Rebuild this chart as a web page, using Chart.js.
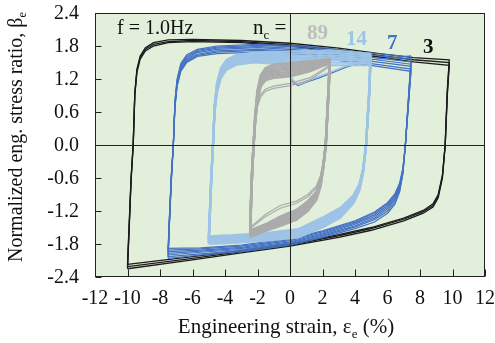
<!DOCTYPE html>
<html>
<head>
<meta charset="utf-8">
<script src="https://cdn.jsdelivr.net/npm/chart.js@4.4.1/dist/chart.umd.min.js"></script>
<style>
  body { margin: 0; background: #fff; }
  #wrap { width: 495px; height: 343px; }
</style>
</head>
<body>
<div id="wrap"><canvas id="chart"></canvas></div>
<script>
const xTickValues = [-12, -10, -8, -6, -4, -2, 0, 2, 4, 6, 8, 10, 12];
const yTickValues = [-2.4, -1.8, -1.2, -0.6, 0.0, 0.6, 1.2, 1.8, 2.4];

// n_c = 3, strain amplitude 10 %
const strain3 = [-10.0, -9.9, -9.78, -9.65, -9.55, -9.42, -9.22, -8.9, -8.4, -7.5, -6.0, -3.0, 0.0, 3.0, 5.5, 7.6, 9.8, 9.68, 9.55, 9.38, 9.12, 8.8, 8.2, 7.0, 5.0, 3.0, 0.0, -3.0, -6.0, -10.0];
const stress3a = [-2.17, -1.45, -0.6, 0.0, 0.95, 1.38, 1.62, 1.77, 1.86, 1.91, 1.92, 1.9, 1.85, 1.76, 1.66, 1.59, 1.55, 1.0, 0.0, -0.55, -0.9, -1.07, -1.19, -1.33, -1.5, -1.63, -1.8, -1.92, -2.03, -2.17];
const stress3b = [-2.21, -1.5, -0.62, 0.0, 0.93, 1.35, 1.59, 1.74, 1.83, 1.88, 1.9, 1.88, 1.82, 1.73, 1.63, 1.55, 1.5, 0.95, 0.0, -0.57, -0.93, -1.1, -1.21, -1.35, -1.52, -1.65, -1.82, -1.94, -2.06, -2.21];
const stress3c = [-2.25, -1.55, -0.65, 0.0, 0.9, 1.32, 1.56, 1.71, 1.8, 1.86, 1.88, 1.86, 1.8, 1.7, 1.6, 1.51, 1.45, 0.9, 0.0, -0.6, -0.96, -1.13, -1.24, -1.38, -1.55, -1.68, -1.84, -1.96, -2.09, -2.25];

// n_c = 7, strain amplitude 7.5 %
const strain7 = [-7.5, -7.42, -7.3, -7.18, -7.08, -6.95, -6.72, -6.35, -5.7, -4.5, -2.0, 1.0, 4.0, 7.45, 7.32, 7.1, 6.95, 6.75, 6.45, 6.0, 5.2, 4.0, 2.0, 0.0, -3.0, -5.5, -7.5];
const stress7a = [-2.06, -1.45, -0.65, 0, 0.8, 1.2, 1.48, 1.64, 1.74, 1.8, 1.83, 1.8, 1.7, 1.6, 1.0, 0, -0.52, -0.85, -1.08, -1.24, -1.4, -1.52, -1.68, -1.82, -1.94, -2.0, -2.06];
const stress7b = [-2.03, -1.42, -0.63, 0, 0.78, 1.17, 1.45, 1.61, 1.72, 1.78, 1.81, 1.78, 1.67, 1.56, 0.98, 0, -0.5, -0.82, -1.04, -1.2, -1.36, -1.49, -1.66, -1.8, -1.92, -1.98, -2.03];
const stress7c = [-2.0, -1.4, -0.6, 0, 0.76, 1.15, 1.43, 1.59, 1.7, 1.76, 1.79, 1.75, 1.63, 1.51, 0.95, 0, -0.48, -0.79, -1.0, -1.16, -1.33, -1.47, -1.64, -1.78, -1.9, -1.95, -2.0];
const stress7d = [-1.97, -1.38, -0.58, 0, 0.74, 1.12, 1.4, 1.56, 1.68, 1.74, 1.77, 1.72, 1.6, 1.47, 0.93, 0, -0.46, -0.76, -0.97, -1.13, -1.3, -1.44, -1.62, -1.76, -1.88, -1.93, -1.97];
const stress7e = [-1.94, -1.35, -0.56, 0, 0.72, 1.1, 1.38, 1.54, 1.65, 1.71, 1.74, 1.7, 1.56, 1.43, 0.9, 0, -0.45, -0.74, -0.94, -1.1, -1.27, -1.42, -1.6, -1.74, -1.86, -1.91, -1.94];
const stress7f = [-1.91, -1.33, -0.55, 0, 0.7, 1.08, 1.36, 1.52, 1.63, 1.69, 1.72, 1.67, 1.52, 1.38, 0.87, 0, -0.43, -0.71, -0.91, -1.07, -1.24, -1.4, -1.58, -1.72, -1.84, -1.89, -1.91];
const stress7g = [-1.88, -1.3, -0.53, 0, 0.68, 1.06, 1.34, 1.5, 1.61, 1.66, 1.69, 1.64, 1.49, 1.34, 0.85, 0, -0.42, -0.69, -0.89, -1.05, -1.22, -1.38, -1.56, -1.7, -1.82, -1.87, -1.88];
const firstStrain7 = [0.0, 0.03, 0.06, 0.25, 0.5, 1.0, 1.8, 2.5, 3.5, 5.0, 7.45];
const firstStress7 = [0.0, 0.6, 1.2, 1.12, 1.08, 1.14, 1.22, 1.3, 1.42, 1.55, 1.62];

// n_c = 14, strain amplitude 5 %
const strain14 = [-5.0, -4.93, -4.85, -4.74, -4.64, -4.5, -4.25, -3.9, -3.3, -2.2, 0.0, 2.5, 4.95, 4.88, 4.68, 4.5, 4.28, 3.9, 3.1, 2.0, 0.5, -1.5, -3.5, -5.0];
const stress14a = [-1.8, -1.3, -0.7, 0, 0.72, 1.12, 1.4, 1.55, 1.64, 1.68, 1.7, 1.72, 1.66, 1.05, 0, -0.5, -0.82, -1.06, -1.32, -1.5, -1.68, -1.74, -1.78, -1.8];
const stress14b = [-1.78, -1.28, -0.68, 0, 0.7, 1.09, 1.37, 1.52, 1.61, 1.65, 1.66, 1.68, 1.63, 1.02, 0, -0.49, -0.8, -1.04, -1.29, -1.47, -1.65, -1.72, -1.76, -1.78];
const stress14c = [-1.76, -1.26, -0.66, 0, 0.68, 1.06, 1.34, 1.49, 1.58, 1.62, 1.62, 1.63, 1.6, 1.0, 0, -0.48, -0.78, -1.01, -1.26, -1.44, -1.63, -1.69, -1.74, -1.76];
const stress14d = [-1.73, -1.24, -0.64, 0, 0.66, 1.03, 1.31, 1.46, 1.55, 1.59, 1.58, 1.59, 1.56, 0.98, 0, -0.46, -0.76, -0.99, -1.23, -1.41, -1.6, -1.67, -1.71, -1.73];
const stress14e = [-1.71, -1.22, -0.62, 0, 0.64, 1.0, 1.28, 1.43, 1.52, 1.56, 1.54, 1.55, 1.53, 0.96, 0, -0.45, -0.74, -0.96, -1.2, -1.38, -1.57, -1.64, -1.69, -1.71];
const stress14f = [-1.68, -1.2, -0.6, 0, 0.62, 0.98, 1.25, 1.4, 1.49, 1.53, 1.5, 1.5, 1.49, 0.94, 0, -0.44, -0.72, -0.94, -1.17, -1.35, -1.55, -1.62, -1.66, -1.68];
const stress14g = [-1.66, -1.18, -0.58, 0, 0.6, 0.95, 1.22, 1.37, 1.46, 1.5, 1.46, 1.45, 1.45, 0.92, 0, -0.43, -0.7, -0.92, -1.14, -1.32, -1.53, -1.6, -1.64, -1.66];
const firstStrain14 = [0.0, 0.03, 0.07, 0.3, 0.55, 1.0, 1.8, 2.5, 3.5, 4.95];
const firstStress14 = [0.0, 0.62, 1.24, 1.14, 1.1, 1.16, 1.25, 1.33, 1.44, 1.56];

// n_c = 89, strain amplitude 2.5 %
const strain89 = [-2.45, -2.4, -2.33, -2.24, -2.14, -2.0, -1.8, -1.5, -1.0, 0.0, 1.2, 2.45, 2.38, 2.2, 2.05, 1.88, 1.62, 1.1, 0.4, -0.6, -1.5, -2.45];
const stress89a = [-1.67, -1.12, -0.5, 0, 0.55, 1.0, 1.27, 1.4, 1.46, 1.49, 1.52, 1.56, 1.1, 0, -0.42, -0.75, -1.0, -1.2, -1.36, -1.47, -1.56, -1.67];
const stress89b = [-1.65, -1.1, -0.49, 0, 0.53, 0.97, 1.23, 1.36, 1.42, 1.45, 1.49, 1.55, 1.08, 0, -0.41, -0.73, -0.98, -1.17, -1.33, -1.44, -1.54, -1.65];
const stress89c = [-1.63, -1.08, -0.48, 0, 0.51, 0.94, 1.2, 1.32, 1.38, 1.41, 1.46, 1.54, 1.06, 0, -0.4, -0.71, -0.95, -1.14, -1.3, -1.41, -1.52, -1.63];
const stress89d = [-1.61, -1.06, -0.47, 0, 0.49, 0.91, 1.17, 1.28, 1.34, 1.37, 1.43, 1.53, 1.04, 0, -0.39, -0.69, -0.93, -1.11, -1.27, -1.39, -1.5, -1.61];
const stress89e = [-1.59, -1.04, -0.46, 0, 0.47, 0.88, 1.14, 1.25, 1.3, 1.33, 1.4, 1.52, 1.02, 0, -0.38, -0.67, -0.9, -1.08, -1.24, -1.36, -1.48, -1.59];
const stress89f = [-1.57, -1.02, -0.45, 0, 0.45, 0.85, 1.1, 1.21, 1.26, 1.29, 1.37, 1.5, 1.0, 0, -0.37, -0.65, -0.88, -1.05, -1.21, -1.33, -1.46, -1.57];
const stress89g = [-1.55, -1.0, -0.44, 0, 0.43, 0.82, 1.07, 1.18, 1.22, 1.25, 1.34, 1.49, 0.98, 0, -0.36, -0.63, -0.85, -1.02, -1.18, -1.3, -1.44, -1.55];
const stress89early1 = [-1.52, -0.95, -0.4, 0, 0.4, 0.72, 0.92, 1.02, 1.07, 1.12, 1.22, 1.45, 0.95, 0, -0.33, -0.58, -0.78, -0.94, -1.06, -1.15, -1.3, -1.52];
const stress89early2 = [-1.5, -0.92, -0.38, 0, 0.38, 0.7, 0.88, 0.98, 1.03, 1.08, 1.18, 1.43, 0.92, 0, -0.31, -0.55, -0.75, -0.9, -1.02, -1.1, -1.26, -1.5];

const seriesLabels = ['89', '14', '7', '3'];
const seriesColors = ['#bdbdbd', '#9dc3e6', '#4472c4', '#111111'];

const plotGreen = '#e2efda';
const serif = '"Liberation Serif", "Times New Roman", serif';

function toPoints(strain, stress) {
  return strain.map((x, i) => ({ x: x, y: stress[i] }));
}

function loop(strain, stress, color, width, layer) {
  return {
    data: toPoints(strain, stress),
    showLine: true,
    borderColor: color,
    borderWidth: width,
    pointRadius: 0,
    tension: 0,
    fill: false,
    order: layer
  };
}

const black = '#1c1c1c';
const blue = '#4472c4';
const lightBlue = '#9dc3e6';
const gray = '#ababab';

// lower order is drawn on top
const datasets = [
  loop(strain3, stress3a, black, 1.3, 5),
  loop(strain3, stress3b, black, 1.3, 5),
  loop(strain3, stress3c, black, 1.3, 5),
  loop(strain7, stress7a, blue, 1.2, 4),
  loop(strain7, stress7b, blue, 1.2, 4),
  loop(strain7, stress7c, blue, 1.2, 4),
  loop(strain7, stress7d, blue, 1.2, 4),
  loop(strain7, stress7e, blue, 1.2, 4),
  loop(strain7, stress7f, blue, 1.2, 4),
  loop(strain7, stress7g, blue, 1.2, 4),
  loop(firstStrain7, firstStress7, blue, 1.2, 4),
  loop(strain14, stress14a, lightBlue, 2.2, 3),
  loop(strain14, stress14b, lightBlue, 2.2, 3),
  loop(strain14, stress14c, lightBlue, 2.2, 3),
  loop(strain14, stress14d, lightBlue, 2.2, 3),
  loop(strain14, stress14e, lightBlue, 2.2, 3),
  loop(strain14, stress14f, lightBlue, 2.2, 3),
  loop(strain14, stress14g, lightBlue, 2.2, 3),
  loop(firstStrain14, firstStress14, lightBlue, 1.5, 3),
  loop(strain89, stress89early1, gray, 1.2, 2),
  loop(strain89, stress89early2, gray, 1.2, 2),
  loop(strain89, stress89a, gray, 2.4, 2),
  loop(strain89, stress89b, gray, 2.4, 2),
  loop(strain89, stress89c, gray, 2.4, 2),
  loop(strain89, stress89d, gray, 2.4, 2),
  loop(strain89, stress89e, gray, 2.4, 2),
  loop(strain89, stress89f, gray, 2.4, 2),
  loop(strain89, stress89g, gray, 2.4, 2)
];

// text made of runs, some of them subscript
function runWidth(ctx, runs, size) {
  let w = 0;
  runs.forEach(r => {
    ctx.font = (r.bold ? 'bold ' : '') + (r.sub ? size * 0.62 : size) + 'px ' + serif;
    w += ctx.measureText(r.t).width;
  });
  return w;
}

function drawRuns(ctx, runs, x, y, size, color) {
  let cx = x;
  ctx.fillStyle = color;
  ctx.textBaseline = 'alphabetic';
  ctx.textAlign = 'left';
  runs.forEach(r => {
    ctx.font = (r.bold ? 'bold ' : '') + (r.sub ? size * 0.62 : size) + 'px ' + serif;
    ctx.fillText(r.t, cx, r.sub ? y + size * 0.22 : y);
    cx += ctx.measureText(r.t).width;
  });
}

const framePlugin = {
  id: 'frame',
  beforeDraw(chart) {
    const { ctx, chartArea: a } = chart;
    ctx.save();
    ctx.fillStyle = plotGreen;
    ctx.fillRect(a.left, a.top, a.right - a.left, a.bottom - a.top);
    ctx.restore();
  },
  afterDatasetsDraw(chart) {
    const { ctx, chartArea: a, scales } = chart;
    const x0 = Math.round(scales.x.getPixelForValue(0)) + 0.5;
    const y0 = Math.round(scales.y.getPixelForValue(0)) + 0.5;
    const left = Math.round(a.left) + 0.5;
    const right = Math.round(a.right) - 0.5;
    const top = Math.round(a.top) + 0.5;
    const bottom = Math.round(a.bottom) - 0.5;
    ctx.save();
    ctx.strokeStyle = '#222';
    ctx.lineWidth = 1;
    ctx.beginPath();
    ctx.moveTo(x0, a.top); ctx.lineTo(x0, a.bottom);
    ctx.moveTo(a.left, y0); ctx.lineTo(a.right, y0);
    xTickValues.forEach(v => {
      const px = Math.round(scales.x.getPixelForValue(v)) + 0.5;
      ctx.moveTo(px, bottom); ctx.lineTo(px, bottom - 7);
    });
    yTickValues.forEach(v => {
      const py = Math.round(scales.y.getPixelForValue(v)) + 0.5;
      ctx.moveTo(left, py); ctx.lineTo(left + 6, py);
    });
    ctx.stroke();
    ctx.strokeRect(left, top, right - left, bottom - top);

    // tick labels
    ctx.fillStyle = '#111';
    ctx.font = '20px ' + serif;
    ctx.textBaseline = 'middle';
    ctx.textAlign = 'center';
    xTickValues.forEach(v => {
      ctx.fillText(String(v), scales.x.getPixelForValue(v), a.bottom + 22);
    });
    ctx.textAlign = 'right';
    yTickValues.forEach(v => {
      ctx.fillText(v.toFixed(1), a.left - 16, scales.y.getPixelForValue(v) + 1);
    });

    // axis titles
    const xTitle = [{ t: 'Engineering strain, ε' }, { t: 'e', sub: true }, { t: ' (%)' }];
    const xw = runWidth(ctx, xTitle, 21);
    drawRuns(ctx, xTitle, (a.left + a.right) / 2 - xw / 2 - 4, 333, 21, '#111');

    const yTitle = [{ t: 'Normalized eng. stress ratio, β' }, { t: 'e', sub: true }];
    const yw = runWidth(ctx, yTitle, 20);
    ctx.save();
    ctx.translate(22, 137);
    ctx.rotate(-Math.PI / 2);
    drawRuns(ctx, yTitle, -yw / 2, 0, 20, '#111');
    ctx.restore();

    // annotations
    drawRuns(ctx, [{ t: 'f = 1.0Hz' }], 117, 34, 20, '#111');
    drawRuns(ctx, [{ t: 'n' }, { t: 'c', sub: true }, { t: ' =' }], 253, 34, 21, '#111');
    const labelPos = [[307, 39], [346, 45], [387, 49], [423, 53]];
    seriesLabels.forEach((t, i) => {
      drawRuns(ctx, [{ t: t, bold: true }], labelPos[i][0], labelPos[i][1], 21, seriesColors[i]);
    });
    ctx.restore();
  }
};

const chartCanvas = document.getElementById('chart');

new Chart(chartCanvas.getContext('2d'), {
  type: 'scatter',
  data: { datasets: datasets },
  options: {
    responsive: true,
    maintainAspectRatio: false,
    animation: false,
    layout: { padding: { top: 13, right: 10, left: 0, bottom: 0 } },
    plugins: { legend: { display: false }, tooltip: { enabled: false } },
    scales: {
      x: {
        type: 'linear',
        min: -12,
        max: 12,
        afterFit: s => { s.height = 66; },
        grid: { display: false, drawTicks: false },
        border: { display: false },
        ticks: { display: false, stepSize: 2 }
      },
      y: {
        type: 'linear',
        min: -2.4,
        max: 2.4,
        afterFit: s => { s.width = 95; },
        grid: { display: false, drawTicks: false },
        border: { display: false },
        ticks: { display: false, stepSize: 0.6 }
      }
    }
  },
  plugins: [framePlugin]
});
</script>
</body>
</html>
